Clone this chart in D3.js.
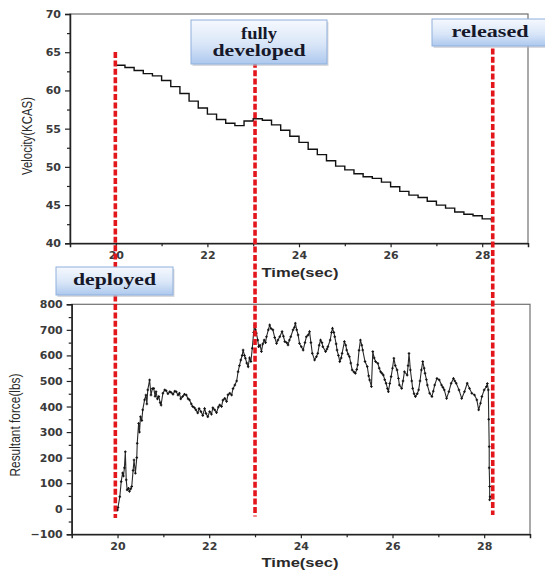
<!DOCTYPE html>
<html>
<head>
<meta charset="utf-8">
<script src="https://cdn.jsdelivr.net/npm/d3@7"></script>
<style>
  body { margin: 0; background: #fff; }
  svg { display: block; }
</style>
</head>
<body>
<div id="chart"></div>
<script>
var w = 545, h = 573;

// top panel: airspeed vs time (stepped trace)
var velTime = [20.0, 20.2, 20.4, 20.6, 20.8, 21.0, 21.2, 21.4, 21.6, 21.8, 22.0, 22.2, 22.4, 22.6,
  22.8, 23.0, 23.2, 23.4, 23.6, 23.8, 24.0, 24.2, 24.4, 24.6, 24.8, 25.0, 25.2, 25.4, 25.6, 25.8,
  26.0, 26.2, 26.4, 26.6, 26.8, 27.0, 27.2, 27.4, 27.6, 27.8, 28.0, 28.2];
var velValue = [63.3, 63.0, 62.6, 62.2, 61.9, 61.3, 60.5, 59.6, 58.6, 57.7, 56.9, 56.2, 55.7, 55.4,
  56.0, 56.3, 56.1, 55.5, 54.8, 54.0, 53.2, 52.3, 51.6, 50.8, 50.1, 49.6, 49.1, 48.7, 48.5, 48.0,
  47.4, 46.8, 46.3, 46.0, 45.5, 45.0, 44.6, 44.1, 43.8, 43.6, 43.2, 42.9];

// bottom panel: resultant force vs time
var forceTime = [20.00, 20.01, 20.05, 20.08, 20.11, 20.13, 20.15, 20.17, 20.19, 20.21, 20.24, 20.26,
  20.29, 20.31, 20.34, 20.36, 20.39, 20.42, 20.43, 20.46, 20.48, 20.50, 20.53, 20.55, 20.59, 20.62,
  20.64, 20.66, 20.70, 20.73, 20.76, 20.79, 20.82, 20.84, 20.87, 20.90, 20.93, 20.95, 20.99, 21.03,
  21.06, 21.10, 21.14, 21.17, 21.21, 21.25, 21.28, 21.32, 21.35, 21.38, 21.42, 21.46, 21.50, 21.54,
  21.57, 21.61, 21.64, 21.68, 21.71, 21.75, 21.78, 21.82, 21.86, 21.90, 21.93, 21.97, 22.01, 22.05,
  22.08, 22.12, 22.16, 22.20, 22.23, 22.27, 22.30, 22.34, 22.38, 22.41, 22.45, 22.49, 22.52, 22.56,
  22.60, 22.63, 22.66, 22.69, 22.72, 22.74, 22.77, 22.79, 22.82, 22.85, 22.88, 22.91, 22.94, 22.97,
  22.99, 23.01, 23.03, 23.06, 23.08, 23.11, 23.14, 23.17, 23.20, 23.23, 23.25, 23.29, 23.32, 23.35,
  23.39, 23.43, 23.47, 23.50, 23.54, 23.59, 23.62, 23.65, 23.69, 23.72, 23.75, 23.78, 23.83, 23.86,
  23.88, 23.91, 23.94, 23.97, 24.01, 24.05, 24.09, 24.12, 24.16, 24.19, 24.22, 24.25, 24.30, 24.34,
  24.37, 24.40, 24.43, 24.46, 24.48, 24.54, 24.57, 24.59, 24.64, 24.67, 24.69, 24.72, 24.74, 24.77,
  24.79, 24.82, 24.85, 24.88, 24.90, 24.95, 24.98, 25.00, 25.03, 25.06, 25.09, 25.12, 25.16, 25.19,
  25.22, 25.24, 25.27, 25.30, 25.33, 25.35, 25.40, 25.45, 25.48, 25.50, 25.54, 25.57, 25.60, 25.63,
  25.68, 25.71, 25.74, 25.77, 25.80, 25.83, 25.86, 25.89, 25.91, 25.94, 25.97, 26.00, 26.03, 26.06,
  26.10, 26.13, 26.15, 26.20, 26.23, 26.26, 26.32, 26.34, 26.36, 26.39, 26.42, 26.44, 26.47, 26.50,
  26.54, 26.57, 26.60, 26.63, 26.66, 26.69, 26.71, 26.74, 26.76, 26.81, 26.86, 26.89, 26.92, 26.97,
  27.02, 27.07, 27.10, 27.13, 27.18, 27.23, 27.28, 27.33, 27.36, 27.39, 27.45, 27.51, 27.57, 27.63,
  27.68, 27.73, 27.79, 27.84, 27.88, 27.92, 27.95, 28.00, 28.05, 28.07, 28.09, 28.10, 28.11, 28.11,
  28.12, 28.12, 28.13];
var forceValue = [-5, 5, 47, 106, 140, 128, 160, 223, 113, 74, 80, 68,
  78, 87, 150, 191, 139, 200, 256, 334, 300, 360, 345, 387, 426, 445,
  410, 465, 504, 445, 470, 471, 440, 458, 430, 439, 415, 406, 452, 465,
  462, 450, 458, 455, 448, 460, 458, 445, 452, 430, 439, 448, 445, 430,
  426, 410, 400, 395, 387, 375, 392, 380, 365, 392, 373, 360, 380, 370,
  395, 387, 376, 398, 406, 400, 425, 432, 420, 446, 452, 445, 470, 484,
  500, 536, 560, 582, 600, 621, 600, 589, 570, 556, 590, 576, 628, 690,
  719, 700, 687, 660, 634, 640, 615, 645, 660, 650, 673, 700, 719, 705,
  700, 670, 647, 660, 673, 693, 675, 654, 650, 641, 660, 673, 700, 710,
  726, 700, 680, 647, 634, 621, 650, 673, 680, 693, 650, 608, 582, 595,
  608, 640, 660, 650, 634, 615, 625, 634, 660, 690, 706, 690, 673, 645,
  621, 600, 576, 590, 608, 654, 640, 621, 605, 595, 570, 543, 535, 530,
  545, 563, 620, 660, 640, 621, 576, 556, 520, 504, 478, 615, 590, 576,
  569, 550, 536, 530, 523, 505, 491, 470, 458, 490, 517, 550, 589, 560,
  543, 510, 484, 471, 500, 536, 523, 560, 608, 543, 500, 471, 450, 439,
  450, 465, 500, 543, 576, 550, 530, 505, 484, 452, 439, 460, 484, 510,
  504, 484, 475, 465, 432, 458, 491, 510, 500, 491, 465, 432, 458, 491,
  471, 452, 445, 426, 387, 413, 439, 465, 478, 490, 465, 350, 243, 160,
  87, 35, 47];

var xTicks = [20, 22, 24, 26, 28];
var xMinor = [21, 23, 25, 27];
var velTicks = [40, 45, 50, 55, 60, 65, 70];
var velMinor = [42.5, 47.5, 52.5, 57.5, 62.5, 67.5];
var forceTicks = [-100, 0, 100, 200, 300, 400, 500, 600, 700, 800];
var forceMinor = [-50, 50, 150, 250, 350, 450, 550, 650, 750];

// phase markers
var eventNames = ["deployed", "fully developed", "released"];
var eventTimes = [19.99, 23.04, 28.23];

var svg = d3.select("#chart").append("svg")
    .attr("width", w)
    .attr("height", h)
    .style("background", "#fff");

var defs = svg.append("defs");
var grad = defs.append("linearGradient").attr("id", "boxFill")
    .attr("x1", 0).attr("y1", 0).attr("x2", 0).attr("y2", 1);
grad.append("stop").attr("offset", "0%").attr("stop-color", "#f6f9fe");
grad.append("stop").attr("offset", "55%").attr("stop-color", "#d9e6f8");
grad.append("stop").attr("offset", "100%").attr("stop-color", "#adc8ee");

function panel(xr, yr, ydom, yt, ym) {
    var x = d3.scaleLinear().domain([19, 29]).range(xr);
    var y = d3.scaleLinear().domain(ydom).range(yr);
    var g = svg.append("g");

    g.append("rect")
        .attr("x", xr[0]).attr("y", yr[1])
        .attr("width", xr[1] - xr[0]).attr("height", yr[0] - yr[1])
        .attr("fill", "none").attr("stroke", "#707070").attr("stroke-width", 1.2);

    g.append("g").attr("class", "axis")
        .attr("transform", "translate(0," + yr[0] + ")")
        .call(d3.axisBottom(x).tickValues(xTicks).tickSize(4).tickPadding(4).tickFormat(d3.format("d")));
    g.append("g").attr("class", "axis minor")
        .attr("transform", "translate(0," + yr[0] + ")")
        .call(d3.axisBottom(x).tickValues(xMinor).tickSize(3).tickFormat(""));

    g.append("g").attr("class", "axis")
        .attr("transform", "translate(" + xr[0] + ",0)")
        .call(d3.axisLeft(y).tickValues(yt).tickSize(5).tickPadding(4).tickFormat(d3.format("d")));
    g.append("g").attr("class", "axis minor")
        .attr("transform", "translate(" + xr[0] + ",0)")
        .call(d3.axisLeft(y).tickValues(ym).tickSize(3).tickFormat(""));

    g.selectAll(".axis path").attr("stroke", "#222").attr("stroke-width", 1.5);
    g.selectAll(".axis line").attr("stroke", "#222").attr("stroke-width", 1.2);
    g.selectAll(".axis.minor path").remove();
    g.selectAll(".axis text")
        .attr("font-family", "DejaVu Sans, sans-serif")
        .attr("font-weight", "bold")
        .attr("font-size", "11px")
        .attr("fill", "#3a3a3a");

    return {x: x, y: y, g: g};
}

// top panel
var velP = panel([70, 528], [243.3, 14], [40, 70], velTicks, velMinor);
var velData = velTime.map(function(t, i) { return {t: t, v: velValue[i]}; });
velP.g.append("path")
    .datum(velData)
    .attr("fill", "none")
    .attr("stroke", "#111")
    .attr("stroke-width", 1.4)
    .attr("d", d3.line()
        .x(function(d) { return velP.x(d.t); })
        .y(function(d) { return velP.y(d.v); })
        .curve(d3.curveStepAfter));

// bottom panel
var forceP = panel([71.7, 530], [534.3, 304.3], [-100, 800], forceTicks, forceMinor);
var forceData = forceTime.map(function(t, i) { return {t: t, f: forceValue[i]}; });
forceP.g.append("path")
    .datum(forceData)
    .attr("fill", "none")
    .attr("stroke", "#2a2a2a")
    .attr("stroke-width", 1.1)
    .attr("d", d3.line()
        .x(function(d) { return forceP.x(d.t); })
        .y(function(d) { return forceP.y(d.f); }));
forceP.g.selectAll(".pt")
    .data(forceData)
    .enter().append("path")
    .attr("class", "pt")
    .attr("transform", function(d) { return "translate(" + forceP.x(d.t) + "," + forceP.y(d.f) + ")"; })
    .attr("d", "M-1.3,0H1.3M0,-1.3V1.3")
    .attr("stroke", "#111")
    .attr("stroke-width", 1);

// axis titles
function axisText(x, y, rot, str, size, len, weight) {
    svg.append("text")
        .attr("transform", "translate(" + x + "," + y + ")" + (rot ? " rotate(-90)" : ""))
        .attr("text-anchor", "middle")
        .attr("font-family", "Liberation Sans, Arial, sans-serif")
        .attr("font-size", size + "px")
        .attr("font-weight", weight || "normal")
        .attr("fill", "#2a2a2a")
        .attr("textLength", len)
        .attr("lengthAdjust", "spacingAndGlyphs")
        .text(str);
}
axisText(300, 277, false, "Time(sec)", 13.5, 77, "bold");
axisText(300, 567, false, "Time(sec)", 13.5, 77, "bold");
axisText(32, 136, true, "Velocity(KCAS)", 14, 78);
axisText(20, 425, true, "Resultant force(lbs)", 14, 103);

// red dashed event lines (positioned on the shared time axis)
var lineTop = [52, 45, 40];
var lineBottom = [518, 516.5, 515];
svg.selectAll(".evline")
    .data(eventTimes)
    .enter().append("line")
    .attr("class", "evline")
    .attr("x1", function(d) { return velP.x(d); })
    .attr("x2", function(d) { return velP.x(d); })
    .attr("y1", function(d, i) { return lineTop[i]; })
    .attr("y2", function(d, i) { return lineBottom[i]; })
    .attr("stroke", "#e3161c")
    .attr("stroke-width", 3.6)
    .attr("stroke-dasharray", "6,2.4");

// callout boxes
var boxes = [
    {x: 56, y: 267, w: 117, h: 28, lines: ["deployed"], base: [285], len: [83]},
    {x: 191, y: 20, w: 136, h: 44, lines: ["fully", "developed"], base: [38.5, 56], len: [36, 93]},
    {x: 432, y: 19, w: 116, h: 27, lines: ["released"], base: [37], len: [77]}
];
boxes.forEach(function(b) {
    svg.append("rect")
        .attr("x", b.x + 1.5).attr("y", b.y + 2)
        .attr("width", b.w).attr("height", b.h)
        .attr("fill", "#b9bcc2").attr("opacity", 0.55);
    svg.append("rect")
        .attr("x", b.x).attr("y", b.y)
        .attr("width", b.w).attr("height", b.h)
        .attr("fill", "url(#boxFill)")
        .attr("stroke", "#8fb0db").attr("stroke-width", 1);
    b.lines.forEach(function(s, i) {
        svg.append("text")
            .attr("x", b.x + b.w / 2)
            .attr("y", b.base[i])
            .attr("text-anchor", "middle")
            .attr("font-family", "Liberation Serif, Times New Roman, serif")
            .attr("font-weight", "bold")
            .attr("font-size", "16px")
            .attr("fill", "#16182a")
            .attr("textLength", b.len[i])
            .attr("lengthAdjust", "spacingAndGlyphs")
            .text(s);
    });
});
</script>
</body>
</html>
